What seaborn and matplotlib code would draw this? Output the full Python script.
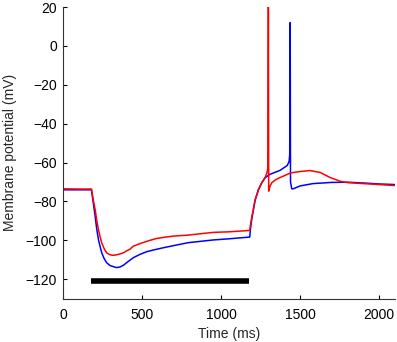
import seaborn as sns
import matplotlib.pyplot as plt
import pandas as pd

# control trace (blue) and modified trace (red)
blue_t = [0, 100, 180, 185, 192, 203, 213, 224, 235, 245, 260, 276, 297, 318, 339,
          360, 382, 410, 445, 487, 530, 580, 640, 700, 791, 870, 949, 1050, 1181,
          1186, 1194, 1204, 1215, 1236, 1257, 1278, 1310, 1373, 1418, 1430, 1434,
          1437, 1439, 1447, 1456, 1500, 1582, 1700, 1800, 1900, 2000, 2100]
blue_v = [-74.0, -74.0, -74.0, -77, -81, -87.4, -94, -99.5, -103.3, -106.4, -109.3,
          -111.5, -112.9, -113.5, -114, -113.7, -112.8, -111, -108.9, -107.2, -105.8,
          -104.8, -103.7, -102.7, -101.2, -100.5, -99.8, -99.2, -98.3, -94, -89,
          -84.5, -79.5, -74, -70.4, -67.8, -66, -64, -61.5, -59.5, -56, 12, -70,
          -73.5, -73.5, -72, -70.8, -70.2, -70.1, -70.5, -71, -71.3]

red_t = [0, 100, 180, 185, 192, 203, 213, 224, 235, 245, 260, 276, 297, 318, 340,
         360, 382, 411, 425, 435, 445, 470, 500, 550, 593, 650, 700, 791, 870, 949,
         1050, 1181, 1186, 1194, 1204, 1215, 1236, 1257, 1278, 1289, 1296, 1299,
         1301, 1308, 1320, 1345, 1373, 1440, 1500, 1563, 1627, 1690, 1753, 1800,
         1899, 2000, 2100]
red_v = [-73.5, -73.6, -73.6, -76, -79.5, -84, -89.5, -94.4, -98.3, -101.3, -104.2,
         -106.4, -107.4, -107.7, -107.4, -107, -106.4, -105, -104.5, -103.6, -103,
         -102.2, -101.3, -100, -99, -98.3, -97.8, -97.3, -96.6, -95.9, -95.6, -94.9,
         -92, -88, -84, -79, -74, -70.4, -67.8, -65.5, -63, 20, -74.7, -72.5, -70.4,
         -68.8, -67.7, -65.3, -64.6, -64.1, -65.1, -67.7, -69.6, -70.3, -70.8, -71.3,
         -71.8]

# current injection period
stim_t = [177, 1177]
stim_v = [-121, -121]

df = pd.concat([
    pd.DataFrame({"time": blue_t, "v": blue_v, "trace": "control"}),
    pd.DataFrame({"time": red_t, "v": red_v, "trace": "modified"}),
])

sns.set_style("white")
plt.rcParams["font.family"] = ["Liberation Sans", "DejaVu Sans"]

fig, ax = plt.subplots(figsize=(3.97, 3.42), dpi=100)
fig.subplots_adjust(left=0.1587, right=0.995, bottom=0.1266, top=0.9795)

sns.lineplot(data=df, x="time", y="v", hue="trace", hue_order=["control", "modified"],
             palette={"control": "#0000ff", "modified": "#ff0000"},
             estimator=None, sort=False, linewidth=1.1, legend=False, ax=ax)
ax.plot(stim_t, stim_v, color="black", linewidth=4, solid_capstyle="butt")

ax.set_xlim(0, 2100)
ax.set_ylim(-130, 20)
ax.set_xticks([0, 500, 1000, 1500, 2000])
ax.set_yticks(range(-120, 21, 20))
ax.tick_params(direction="in", length=3, width=0.8, labelsize=10, colors="black",
               left=True, bottom=True)
ax.tick_params(axis="x", pad=6.5)
ax.tick_params(axis="y", pad=4.5)
ax.set_xlabel("Time (ms)", fontsize=10, labelpad=4)
ax.set_ylabel("Membrane potential (mV)", fontsize=10, labelpad=6)
sns.despine(ax=ax)
for s in ("left", "bottom"):
    ax.spines[s].set_color("#333333")
    ax.spines[s].set_linewidth(0.8)

fig.savefig("out.png", dpi=100)
